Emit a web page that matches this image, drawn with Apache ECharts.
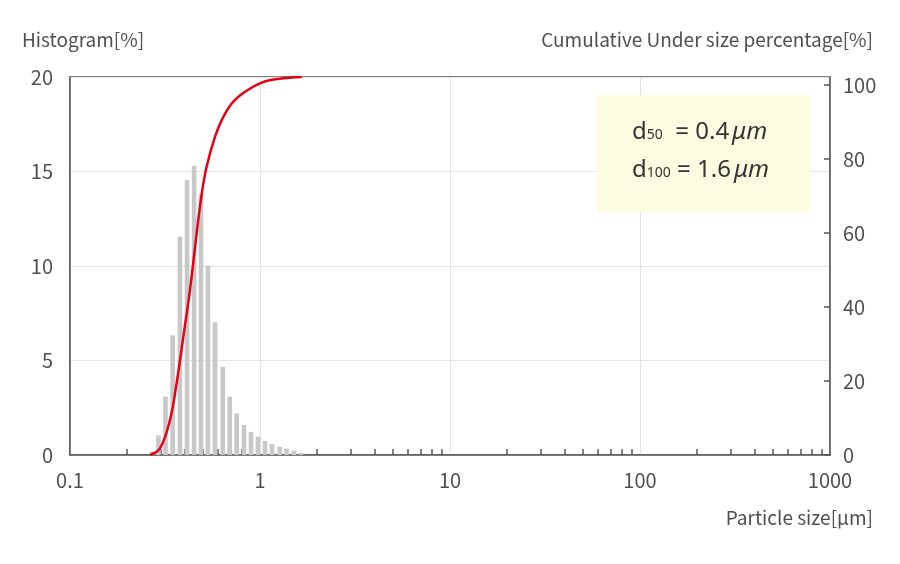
<!DOCTYPE html>
<html>
<head>
<meta charset="utf-8">
<title>Particle size distribution</title>
<script src="https://cdn.jsdelivr.net/npm/echarts@6/dist/echarts.min.js"></script>
<style>
  * { margin: 0; padding: 0; }
  #chart { width: 900px; height: 564px; background: #fff; }
</style>
</head>
<body>
<div id="chart"></div>
<script>
// histogram bins: particle size [um] and frequency [%]
var binSizes = [0.270, 0.292, 0.318, 0.347, 0.379, 0.413, 0.450, 0.489, 0.532, 0.580, 0.637,
                0.693, 0.754, 0.824, 0.897, 0.976, 1.062, 1.157, 1.27, 1.38, 1.51, 1.64];
var binValues = [0.17, 1.04, 3.09, 6.33, 11.55, 14.55, 15.31, 13.8, 10.02, 7.02, 4.67,
                 3.09, 2.20, 1.59, 1.22, 0.97, 0.74, 0.58, 0.44, 0.34, 0.23, 0.11];

// cumulative under size curve: size [um] and percentage [%]
var cumSizes = [0.264, 0.298, 0.336, 0.364, 0.395, 0.428, 0.464, 0.494, 0.524, 0.580,
                0.629, 0.710, 0.834, 1.02, 1.25, 1.66];
var cumValues = [0, 1.8, 9.3, 19, 31.3, 43.7, 58.6, 69.2, 76.3, 84.2,
                 88.6, 93, 96.1, 98.5, 99.5, 100];

// axis labels / ticks
var xLabels = [0.1, 1, 10, 100, 1000];
var xMinorTicks = [0.2, 0.3, 0.4, 0.5, 0.6, 0.7, 0.8, 0.9,
                   2, 3, 4, 5, 6, 7, 8, 9,
                   20, 30, 40, 50, 60, 70, 80, 90,
                   200, 300, 400, 500, 600, 700, 800, 900];

var d50 = '0.4';
var d100 = '1.6';

var font = '"Noto Sans CJK JP", "Noto Sans", sans-serif';
var boxFont = '"Noto Sans", sans-serif';
var textColor = '#505050';
var axisColor = '#5a5a5a';

var chart = echarts.init(document.getElementById('chart'), null, { renderer: 'canvas' });

var histData = binSizes.map(function (s, i) { return [s, binValues[i]]; });
var cumData = cumSizes.map(function (s, i) { return [s, cumValues[i]]; });

var boxRich = {
    d: { fontSize: 24, fontFamily: boxFont, fill: '#333', height: 30 },
    s: { fontSize: 14, fontFamily: boxFont, fill: '#333', verticalAlign: 'bottom', height: 24 },
    t: { fontSize: 24, fontFamily: boxFont, fill: '#333', height: 30 },
    u: { fontSize: 24, fontFamily: boxFont, fontStyle: 'italic', fill: '#333', height: 30, padding: [0, 0, 0, 3] }
};

var option = {
    animation: false,
    textStyle: { fontFamily: font },
    grid: {
        left: 70, right: 70, top: 77, bottom: 109,
        show: true, borderColor: axisColor, borderWidth: 1.5
    },
    xAxis: [
        {
            // ticks and labels
            type: 'log',
            logBase: 10,
            min: 0.1,
            max: 1000,
            position: 'bottom',
            axisLine: { lineStyle: { color: axisColor, width: 1.5 } },
            axisTick: {
                show: true, inside: true, length: 6,
                customValues: xMinorTicks,
                lineStyle: { color: axisColor, width: 1.5 }
            },
            axisLabel: {
                customValues: xLabels,
                margin: 15,
                fontSize: 20, color: textColor, fontFamily: font,
                formatter: function (v) { return String(v); }
            },
            splitLine: { show: false }
        },
        {
            // decade grid lines only
            type: 'log',
            logBase: 10,
            min: 0.1,
            max: 1000,
            position: 'top',
            axisLine: { show: false },
            axisTick: { show: false },
            axisLabel: { show: false },
            splitLine: { show: true, lineStyle: { color: '#e4e4e4', width: 1 } }
        }
    ],
    yAxis: [
        {
            type: 'value',
            min: 0, max: 20, interval: 5,
            axisLine: { show: true, lineStyle: { color: axisColor, width: 1.5 } },
            axisTick: { show: false },
            axisLabel: { margin: 17, fontSize: 20, color: textColor, fontFamily: font },
            splitLine: { show: true, lineStyle: { color: '#e4e4e4', width: 1 } }
        },
        {
            type: 'value',
            position: 'right',
            min: 0, max: 102.16, interval: 20,
            axisLine: { show: true, lineStyle: { color: axisColor, width: 1.5 } },
            axisTick: { show: true, inside: true, length: 6, lineStyle: { color: axisColor, width: 1.5 } },
            axisLabel: {
                margin: 13, fontSize: 20, color: textColor, fontFamily: font,
                showMaxLabel: false,
                formatter: function (v) { return v > 100 ? '' : String(v); }
            },
            splitLine: { show: false }
        },
        {
            type: 'value',
            min: 0, max: 100,
            show: false
        }
    ],
    series: [
        {
            name: 'Histogram',
            type: 'bar',
            xAxisIndex: 0,
            yAxisIndex: 0,
            data: histData,
            barWidth: 4.6,
            itemStyle: { color: '#c8c8c8' },
            z: 2
        },
        {
            name: 'Cumulative',
            type: 'line',
            xAxisIndex: 0,
            yAxisIndex: 2,
            data: cumData,
            smooth: 0.4,
            showSymbol: false,
            lineStyle: { color: '#e60012', width: 2.5 },
            z: 3
        }
    ],
    graphic: [
        {
            type: 'text', left: 22, top: 30,
            style: { text: 'Histogram[%]', font: '19px ' + font, fill: textColor }
        },
        {
            type: 'text', right: 27, top: 30,
            style: { text: 'Cumulative Under size percentage[%]', font: '19px ' + font, fill: textColor }
        },
        {
            type: 'text', right: 27, top: 508,
            style: { text: 'Particle size[\u03bcm]', font: '19px ' + font, fill: textColor }
        },
        {
            type: 'rect', left: 597, top: 95, z: 10,
            shape: { width: 213, height: 117 },
            style: { fill: '#fdfbe0' }
        },
        {
            type: 'text', left: 632, top: 120, z: 11,
            style: {
                text: '{d|d}{s|50}{t|  = ' + d50 + '}{u|\u03bcm}',
                fill: '#333',
                rich: boxRich
            }
        },
        {
            type: 'text', left: 632, top: 158, z: 11,
            style: {
                text: '{d|d}{s|100}{t| = ' + d100 + '}{u|\u03bcm}',
                fill: '#333',
                rich: boxRich
            }
        }
    ]
};

chart.setOption(option);
</script>
</body>
</html>
